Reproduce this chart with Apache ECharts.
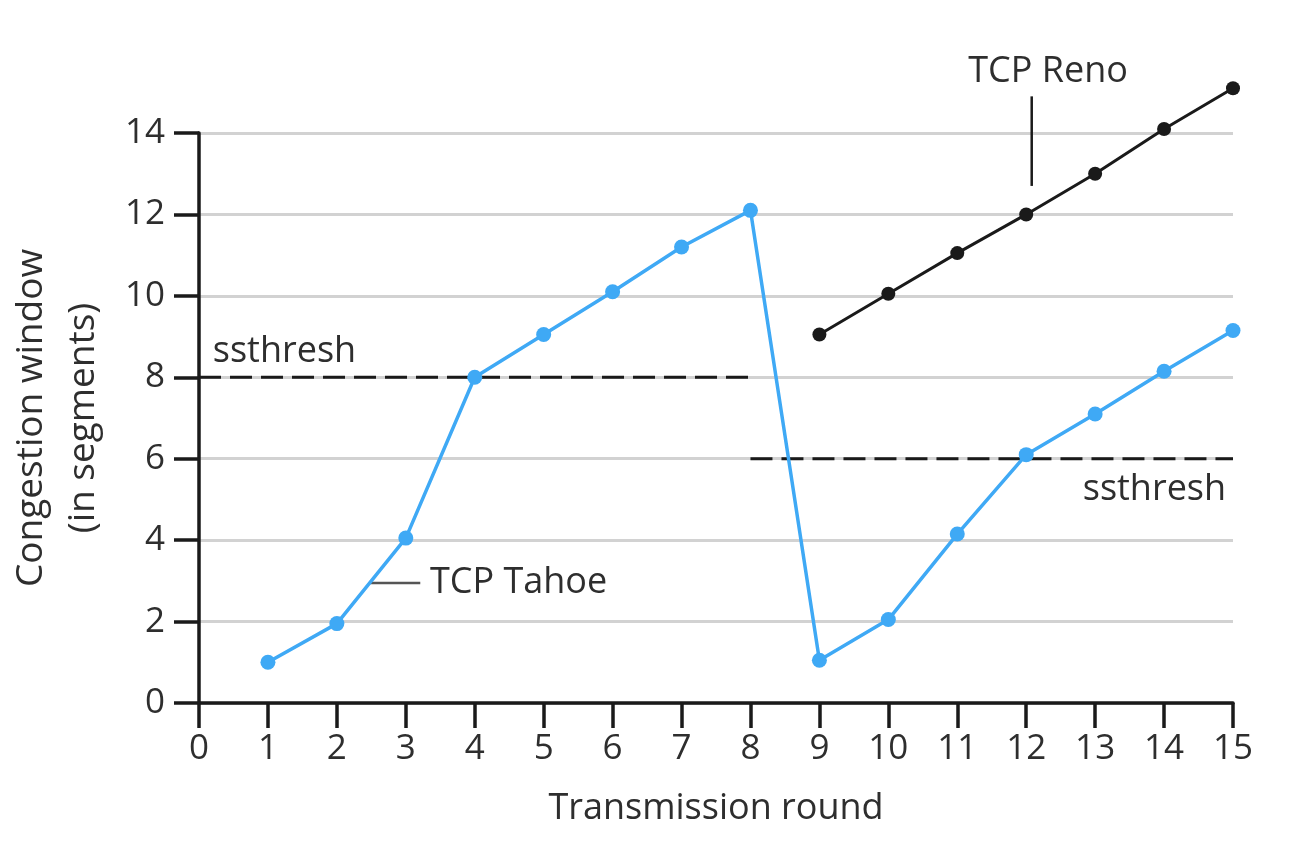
<!DOCTYPE html>
<html>
<head>
<meta charset="utf-8">
<script src="https://cdn.jsdelivr.net/npm/echarts@6/dist/echarts.min.js"></script>
<style>
html,body{margin:0;padding:0;background:#fff;}
#chart{width:1306px;height:861px;}
</style>
</head>
<body>
<div id="chart"></div>
<script>
// ---- data ----
const rounds = [1,2,3,4,5,6,7,8,9,10,11,12,13,14,15];
const tahoeValues = [1,1.95,4.05,8,9.05,10.1,11.2,12.1,1.05,2.05,4.15,6.1,7.1,8.15,9.15];
const renoRounds = [9,10,11,12,13,14,15];
const renoValues = [9.05,10.05,11.05,12,13,14.1,15.1];
const ssthresh1 = [[0,8],[8,8]];
const ssthresh2 = [[8,6],[15,6]];
const yTicks = [0,2,4,6,8,10,12,14];

const FONT = "'Open Sans', 'Noto Sans', sans-serif";
const TEXT = '#2e2e2e';
const BLUE = '#3fa9f5';

const chart = echarts.init(document.getElementById('chart'), null, {renderer:'canvas'});

const option = {
  backgroundColor:'#fff',
  animation:false,
  grid:{left:199, right:73, top:133, bottom:158, containLabel:false, outerBoundsMode:'none'},
  xAxis:{
    type:'value', min:0, max:15, interval:1,
    name:'Transmission round', nameLocation:'middle', nameGap:88,
    nameTextStyle:{fontFamily:FONT, fontSize:36, color:TEXT},
    axisLine:{show:true, lineStyle:{color:'#1a1a1a', width:3.5}},
    axisTick:{show:true, length:25, lineStyle:{color:'#1a1a1a', width:3.5}},
    axisLabel:{fontFamily:FONT, fontSize:35, color:TEXT, margin:29},
    splitLine:{show:false}
  },
  yAxis:{
    type:'value', min:0, max:14, interval:2,
    name:'Congestion window\n(in segments)', nameLocation:'middle', nameGap:90,
    nameTextStyle:{fontFamily:FONT, fontSize:37, color:TEXT, lineHeight:52},
    axisLine:{show:true, lineStyle:{color:'#1a1a1a', width:3.5}},
    axisTick:{show:true, length:25, lineStyle:{color:'#1a1a1a', width:3.5}},
    axisLabel:{fontFamily:FONT, fontSize:35, color:TEXT, margin:34,
      formatter:v => yTicks.includes(v) ? String(v) : ''},
    splitLine:{show:true, lineStyle:{color:'#d2d2d2', width:3}}
  },
  series:[
    {type:'line', name:'ssthresh1', data:ssthresh1, symbol:'none', z:1,
     lineStyle:{color:'#1a1a1a', width:3, type:[22,9]}},
    {type:'line', name:'ssthresh2', data:ssthresh2, symbol:'none', z:1,
     lineStyle:{color:'#1a1a1a', width:3, type:[22,9]}},
    {type:'line', name:'TCP Tahoe', data:rounds.map((r,i)=>[r,tahoeValues[i]]),
     symbol:'circle', symbolSize:15, z:3,
     itemStyle:{color:BLUE}, lineStyle:{color:BLUE, width:3.5}},
    {type:'line', name:'TCP Reno', data:renoRounds.map((r,i)=>[r,renoValues[i]]),
     symbol:'circle', symbolSize:14, clip:false, z:3,
     itemStyle:{color:'#1a1a1a'}, lineStyle:{color:'#1a1a1a', width:3}}
  ]
};
chart.setOption(option);

// ---- annotations anchored in data coordinates ----
const annotations = [
  {text:'ssthresh', at:[0.2, 8.62], align:'left'},
  {text:'ssthresh', at:[14.9, 5.23], align:'right'},
  {text:'TCP Tahoe', at:[3.35, 2.95], align:'left'},
  {text:'TCP Reno', at:[11.16, 15.5], align:'left'}
];
const leaders = [
  {from:[2.48, 2.95], to:[3.21, 2.95], color:'#555'},
  {from:[12.08, 14.9], to:[12.08, 12.7], color:'#1a1a1a'}
];
const px = p => chart.convertToPixel({gridIndex:0}, p);
const graphics = [];
annotations.forEach(a => {
  const p = px(a.at);
  graphics.push({type:'text', x:p[0], y:p[1], silent:true,
    style:{text:a.text, fill:TEXT, font:`36px ${FONT}`, textAlign:a.align, textVerticalAlign:'middle'}});
});
leaders.forEach(l => {
  const a = px(l.from), b = px(l.to);
  graphics.push({type:'line', silent:true,
    shape:{x1:a[0], y1:a[1], x2:b[0], y2:b[1]},
    style:{stroke:l.color, lineWidth:2.5}});
});
chart.setOption({graphic:graphics});
</script>
</body>
</html>
